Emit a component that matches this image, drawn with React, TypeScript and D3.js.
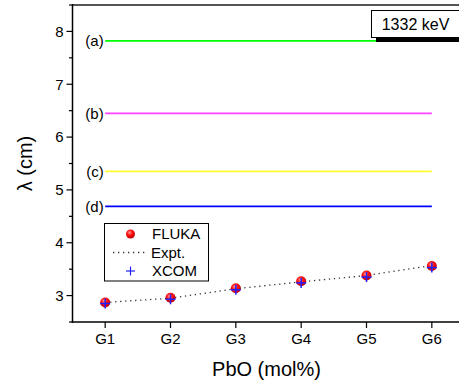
import React from "react";
import * as d3 from "d3";

const categories = ["G1", "G2", "G3", "G4", "G5", "G6"];
const fluka = [2.87, 2.96, 3.14, 3.27, 3.38, 3.56];
const expt = [2.87, 2.95, 3.13, 3.26, 3.38, 3.57];
const xcom = [2.85, 2.93, 3.11, 3.24, 3.35, 3.53];
const refLabels = ["(a)", "(b)", "(c)", "(d)"];
const refValues = [7.82, 6.45, 5.35, 4.69];
const refColors = ["#00ff00", "#ff40ff", "#ffff30", "#0000ff"];
const yTicks = [3, 4, 5, 6, 7, 8];
const yMinor = [2.5, 3.5, 4.5, 5.5, 6.5, 7.5, 8.5];

const W = 459, H = 385;
const left = 72.5, top = 5, bottom = 322;

export default function App() {
  const x = d3.scaleLinear().domain([0.5, 6.5]).range([left, left + 392]);
  const y = d3.scaleLinear().domain([2.5, 8.5]).range([bottom, top]);
  const font = "Liberation Sans, Arial, sans-serif";
  const exptLine = d3.line<number>().x((_, i) => x(i + 1)).y((d) => y(d))(expt) || "";

  return (
    <svg width={W} height={H} style={{ position: "absolute", left: 0, top: 0 }} fontFamily={font}>
      <rect width={W} height={H} fill="#fff" />
      {refValues.map((v, i) => (
        <g key={i}>
          <line x1={x(1)} x2={x(6)} y1={y(v)} y2={y(v)} stroke={refColors[i]} strokeWidth={1.8} />
          <text x={x(1) - 1.5} y={y(v)} dy="0.35em" textAnchor="end" fontSize={15}>{refLabels[i]}</text>
        </g>
      ))}
      <path d={exptLine} fill="none" stroke="#333" strokeWidth={1.3} strokeDasharray="1.3,3.7" />
      <defs>
        <radialGradient id="ball" cx="0.4" cy="0.35" r="0.65">
          <stop offset="0" stopColor="#ff9a9a" />
          <stop offset="0.45" stopColor="#ff1010" />
          <stop offset="1" stopColor="#c00000" />
        </radialGradient>
      </defs>
      {fluka.map((v, i) => (
        <circle key={i} cx={x(i + 1)} cy={y(v)} r={5} fill="url(#ball)" />
      ))}
      {xcom.map((v, i) => (
        <g key={i} stroke="#2020ff" strokeWidth={1.5}>
          <line x1={x(i + 1) - 5} x2={x(i + 1) + 5} y1={y(v)} y2={y(v)} />
          <line x1={x(i + 1)} x2={x(i + 1)} y1={y(v) - 5} y2={y(v) + 5} />
        </g>
      ))}
      <line x1={left} x2={W} y1={top} y2={top} stroke="#555" strokeWidth={2} />
      <line x1={left} x2={left} y1={top - 1} y2={bottom + 1} stroke="#000" strokeWidth={1.5} />
      <line x1={left - 0.75} x2={W} y1={bottom} y2={bottom} stroke="#000" strokeWidth={1.5} />
      {yTicks.map((t) => (
        <g key={t}>
          <line x1={left - 6} x2={left} y1={y(t)} y2={y(t)} stroke="#000" strokeWidth={1.2} />
          <text x={left - 9} y={y(t)} dy="0.36em" textAnchor="end" fontSize={15}>{t}</text>
        </g>
      ))}
      {yMinor.map((t) => (
        <line key={t} x1={left - 3.5} x2={left} y1={y(t)} y2={y(t)} stroke="#000" strokeWidth={1.2} />
      ))}
      {categories.map((c, i) => (
        <g key={c}>
          <line x1={x(i + 1)} x2={x(i + 1)} y1={bottom} y2={bottom + 6} stroke="#000" strokeWidth={1.2} />
          <text x={x(i + 1)} y={bottom + 22} textAnchor="middle" fontSize={15}>{c}</text>
        </g>
      ))}
      <text x={x(3.5) - 2} y={376} textAnchor="middle" fontSize={20}>PbO (mol%)</text>
      <text transform={`translate(32, ${(top + bottom) / 2}) rotate(-90)`} textAnchor="middle" fontSize={20}>λ (cm)</text>
      <rect x={104.5} y={223.5} width={104} height={57.5} fill="#fff" stroke="#000" strokeWidth={1} />
      <circle cx={130.5} cy={234} r={4.5} fill="url(#ball)" />
      <text x={152} y={234} dy="0.36em" fontSize={15}>FLUKA</text>
      <line x1={113} x2={148} y1={252.5} y2={252.5} stroke="#333" strokeWidth={1.3} strokeDasharray="1.3,3.7" />
      <text x={151} y={252.5} dy="0.36em" fontSize={15}>Expt.</text>
      <g stroke="#2020ff" strokeWidth={1.2}>
        <line x1={126} x2={135} y1={271} y2={271} />
        <line x1={130.5} x2={130.5} y1={266.5} y2={275.5} />
      </g>
      <text x={152} y={271} dy="0.36em" fontSize={15}>XCOM</text>
      <rect x={376} y={15} width={90} height={27} fill="#000" />
      <rect x={371.5} y={10.5} width={88} height={27} fill="#fff" stroke="#000" strokeWidth={1} />
      <text x={415.5} y={24} dy="0.36em" textAnchor="middle" fontSize={16}>1332 keV</text>
    </svg>
  );
}
